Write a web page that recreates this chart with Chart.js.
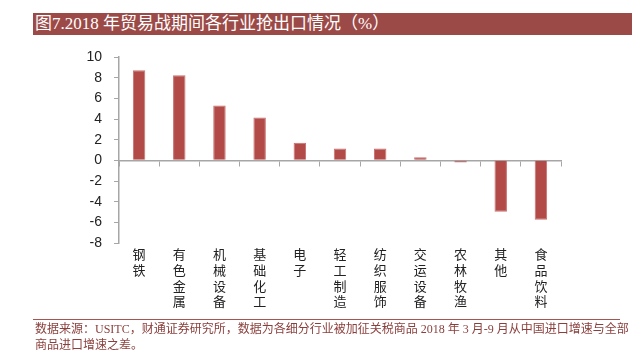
<!DOCTYPE html>
<html>
<head>
<meta charset="utf-8">
<script src="https://cdn.jsdelivr.net/npm/chart.js@4/dist/chart.umd.min.js"></script>
<style>
  html, body { margin: 0; padding: 0; background: #fff; }
  #wrap { position: relative; width: 642px; height: 353px; overflow: hidden; }
  #myChart { position: absolute; left: 0; top: 0; }
  #title {
    position: absolute; left: 33px; top: 13px; width: 599px; height: 22px;
    background: #9c4a47; color: #fff;
    font: 17px "Liberation Serif", "Noto Sans CJK SC", serif;
    line-height: 22px; padding-left: 2px; box-sizing: border-box;
  }
  #footLine { position: absolute; left: 33px; top: 319px; width: 587px; height: 1px; background: #a85350; }
  #source {
    position: absolute; left: 35px; top: 321px; width: 600px;
    color: #8a3f3c; font: 12px "Liberation Serif", "Noto Sans CJK SC", serif; line-height: 16px;
  }
</style>
</head>
<body>
<div id="wrap">
  <canvas id="myChart" width="642" height="353"></canvas>
  <div id="title">图7.2018 年贸易战期间各行业抢出口情况（%）</div>
  <div id="footLine"></div>
  <div id="source">数据来源：USITC，财通证券研究所，数据为各细分行业被加征关税商品 2018 年 3 月-9 月从中国进口增速与全部<br>商品进口增速之差。</div>
</div>
<script>
const categories = ["钢铁", "有色金属", "机械设备", "基础化工", "电子", "轻工制造", "纺织服饰", "交运设备", "农林牧渔", "其他", "食品饮料"];
const values = [8.72, 8.23, 5.3, 4.15, 1.7, 1.15, 1.15, 0.3, -0.2, -4.98, -5.75];
const yTicks = [-8, -6, -4, -2, 0, 2, 4, 6, 8, 10];

const axisGray = "#a6a6a6";

// one character per line, like the vertical labels in the original
const labels = categories.map((c) => c.split(""));

const ctx = document.getElementById("myChart");
new Chart(ctx, {
  type: "bar",
  data: {
    labels: labels,
    datasets: [
      {
        data: values,
        backgroundColor: "#b24a48",
        borderColor: "#c8706e",
        borderWidth: 1,
        barPercentage: 0.31,
        categoryPercentage: 1,
        xAxisID: "x",
      },
    ],
  },
  options: {
    responsive: false,
    animation: false,
    layout: { padding: { left: 59, right: 81, top: 57, bottom: 0 } },
    plugins: { legend: { display: false }, tooltip: { enabled: false } },
    scales: {
      x: {
        position: "bottom",
        offset: true,
        grid: { display: false, drawTicks: false },
        border: { display: false },
        ticks: {
          color: "#222",
          padding: 3,
          maxRotation: 0,
          autoSkip: false,
          font: { family: "'Noto Sans CJK SC'", size: 13, lineHeight: 1.22 },
        },
        afterFit: (scale) => { scale.height = 110; },
      },
      x2: {
        type: "category",
        position: { y: 0 },
        offset: true,
        grid: { offset: true, drawOnChartArea: false, drawTicks: true, tickLength: 5, color: axisGray, lineWidth: 1 },
        border: { display: true, color: axisGray, width: 1.5 },
        ticks: { display: false },
        afterFit: (scale) => { scale.height = 0; },
      },
      y: {
        min: -8,
        max: 10,
        afterBuildTicks: (scale) => { scale.ticks = yTicks.map((v) => ({ value: v })); },
        grid: { drawOnChartArea: false, drawTicks: true, tickLength: 5, color: axisGray },
        border: { display: true, color: axisGray, width: 1.5 },
        ticks: {
          color: "#222",
          padding: 12,
          font: { family: "'Liberation Sans', Arial", size: 14 },
        },
        afterFit: (scale) => { scale.width = 60; },
      },
    },
  },
});
</script>
</body>
</html>
